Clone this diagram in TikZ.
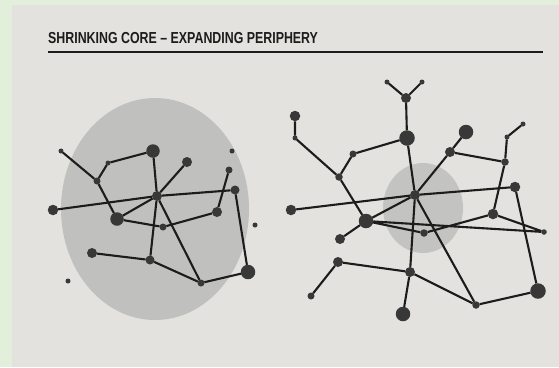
\documentclass[tikz,border=0pt]{standalone}
\usepackage{fontspec}
\setsansfont{Liberation Sans}
\definecolor{mat}{HTML}{E2EFDA}
\definecolor{paper}{HTML}{E3E2DF}
\definecolor{core}{HTML}{C0C0BF}
\definecolor{ink}{HTML}{1C1C1C}
\definecolor{dotgray}{HTML}{383838}

\begin{document}
\begin{tikzpicture}[x=1bp,y=-1bp]
    \tikzstyle{dot}=[circle,fill=dotgray,inner sep=0pt,outer sep=0pt]
    \tikzstyle{dotxs}=[dot,minimum size=5bp]
    \tikzstyle{dots}=[dot,minimum size=7bp]
    \tikzstyle{dotm}=[dot,minimum size=10bp]
    \tikzstyle{dotl}=[dot,minimum size=14.5bp]
    \tikzstyle{link}=[draw=ink,line width=2.1bp]
    \useasboundingbox (0,0) rectangle (559,367);
    \fill[mat] (0,0) rectangle (559,367);
    \fill[paper] (12,5) rectangle (559,367);

    \node[anchor=base west,inner sep=0pt,text=ink] (title) at (48,43)
      {\scalebox{0.777}[1]{\fontsize{16}{17}\selectfont\sffamily\bfseries SHRINKING CORE -- EXPANDING PERIPHERY}};
    \draw[ink,line width=1.8bp] (48,52) -- (543,52);

    \fill[core] (155,209) ellipse (94 and 111);
    \fill[core,opacity=0.9] (423,208) ellipse (40 and 45);

    % left: shrinking core
    \node[dotxs] (A) at (61,151) {};
    \node[dots] (B) at (97,181) {};
    \node[dotxs] (C) at (108,163) {};
    \node[dotl,minimum size=13.5bp] (D) at (153,151) {};
    \node[dotm] (E) at (187,162) {};
    \node[dotm] (F) at (157,196) {};
    \node[dotm,minimum size=10.5bp] (G) at (53,210) {};
    \node[dotl,minimum size=13.5bp] (H) at (117,219) {};
    \node[dots] (I) at (163,227) {};
    \node[dotm] (J) at (217,212) {};
    \node[dots] (K) at (229,170) {};
    \node[dotm,minimum size=9bp] (L) at (235,190) {};
    \node[dotm] (M) at (92,253) {};
    \node[dotm,minimum size=9bp] (N) at (150,260) {};
    \node[dots] (O) at (201,283) {};
    \node[dotl] (P) at (248,272) {};
    \node[dotxs] (S1) at (232,151) {};
    \node[dotxs] (S2) at (255,225) {};
    \node[dotxs] (S3) at (68,281) {};

    \draw[link] (A) -- (B) -- (C) -- (D) -- (F) -- (N);
    \draw[link] (B) -- (H) -- (I) -- (J) -- (K);
    \draw[link] (G) -- (F) -- (L) -- (P);
    \draw[link] (E) -- (F) -- (H);
    \draw[link] (F) -- (O) -- (P);
    \draw[link] (M) -- (N) -- (O);

    % right: expanding periphery
    \node[dotxs] (a) at (387,82) {};
    \node[dotxs] (b) at (422,82) {};
    \node[dotm] (c) at (406,98) {};
    \node[dotl,minimum size=15.5bp] (d) at (407,138) {};
    \node[dotm,minimum size=10.5bp] (e) at (295,116) {};
    \node[dotxs] (f) at (295,138) {};
    \node[dots] (g) at (353,154) {};
    \node[dots,minimum size=7.5bp] (h) at (339,177) {};
    \node[dotm] (i) at (415,195) {};
    \node[dotm,minimum size=10.5bp] (j) at (291,210) {};
    \node[dotl] (k) at (366,221) {};
    \node[dotm] (l) at (340,239) {};
    \node[dots,minimum size=7.5bp] (m) at (424,233) {};
    \node[dotm] (n) at (338,262) {};
    \node[dots] (o) at (311,296) {};
    \node[dotm] (p) at (410,272) {};
    \node[dotl] (q) at (403,314) {};
    \node[dots,minimum size=7.5bp] (r) at (476,305) {};
    \node[dotl] (t) at (466,132) {};
    \node[dotm] (u) at (450,152) {};
    \node[dotxs] (v) at (523,124) {};
    \node[dotxs] (w) at (507,137) {};
    \node[dots,minimum size=7.5bp] (x) at (505,162) {};
    \node[dotm,minimum size=10.5bp] (y) at (515,187) {};
    \node[dotm,minimum size=10.5bp] (z) at (493,214) {};
    \node[dots,minimum size=5.5bp] (aa) at (544,232) {};
    \node[dotl,minimum size=15.5bp] (bb) at (538,291) {};

    \draw[link] (a) -- (c) -- (b);
    \draw[link] (c) -- (d) -- (i) -- (p) -- (q);
    \draw[link] (d) -- (g) -- (h) -- (k) -- (l);
    \draw[link] (e) -- (f) -- (h);
    \draw[link] (j) -- (i) -- (y) -- (bb) -- (r) -- (p) -- (n) -- (o);
    \draw[link] (k) -- (i) -- (u) -- (t);
    \draw[link] (u) -- (x) -- (w) -- (v);
    \draw[link] (x) -- (z) -- (aa) -- (k) -- (m) -- (z);
    \draw[link] (i) -- (r);
\end{tikzpicture}
\end{document}
